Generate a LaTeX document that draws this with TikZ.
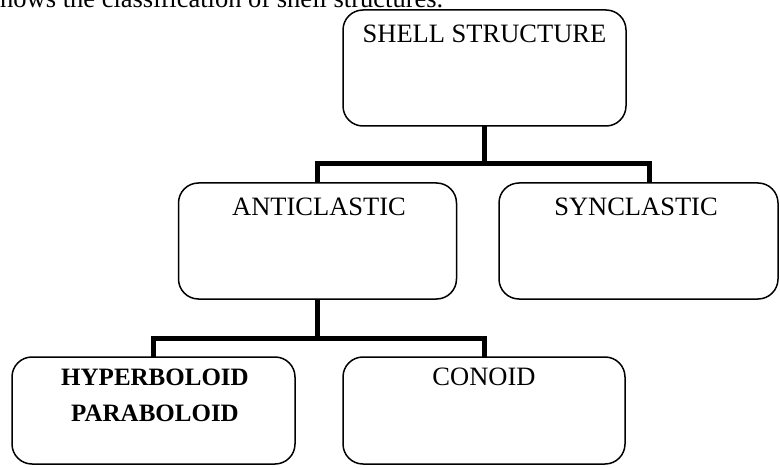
\documentclass[tikz,border=0pt]{standalone}
\usepackage{fontspec}
\setmainfont{Liberation Serif}
\begin{document}
\begin{tikzpicture}[x=1pt,y=-1pt,
  boxst/.style={draw=black,line width=1.5pt,rounded corners=20pt,rectangle,inner sep=0pt,fill=white},
  lbl/.style={anchor=base,inner sep=0pt,font=\fontsize{26.5}{30}\selectfont},
  blbl/.style={anchor=base,inner sep=0pt,font=\fontsize{25}{30}\selectfont\bfseries},
  conn/.style={draw=black,line width=5pt,line join=miter}]
\useasboundingbox (0,0) rectangle (780,468);
\clip (0,0) rectangle (780,468);
\fill[white] (0,0) rectangle (780,468);
% caption text, cut at top
\node[anchor=base west,inner sep=0pt,font=\fontsize{26.5}{30}\selectfont] (cap) at (0,8) {hows the classification of shell structures.};
% junctions
\coordinate (j1) at (484.5,164);
\coordinate (synin) at (649,183);
\coordinate (j2) at (317.5,338);
% connectors
\draw[conn] (484.5,126) -- (j1);
\draw[conn] (317.5,183) |- (j1) -| (synin);
\draw[conn] (317.5,299) -- (j2);
\draw[conn] (153.5,357) |- (j2) -| (484,357);
% boxes
\node[boxst,minimum width=283pt,minimum height=116pt] (shell) at (484.5,68) {};
\node[boxst,minimum width=278pt,minimum height=116pt] (anti) at (317.5,241) {};
\node[boxst,minimum width=279pt,minimum height=116pt] (syn) at (638.5,241) {};
\node[boxst,minimum width=283pt,minimum height=107pt] (hyp) at (153.5,410.5) {};
\node[boxst,minimum width=282pt,minimum height=107pt] (con) at (484,410.5) {};
% labels
\node[lbl] (shellt) at (484.5,43) {SHELL STRUCTURE};
\node[lbl] (antit) at (319,216) {ANTICLASTIC};
\node[lbl] (synt) at (636,216) {SYNCLASTIC};
\node[blbl] (hypt1) at (155,385) {HYPERBOLOID};
\node[blbl] (hypt2) at (155,421) {PARABOLOID};
\node[lbl] (cont) at (484,385) {CONOID};
\end{tikzpicture}
\end{document}
